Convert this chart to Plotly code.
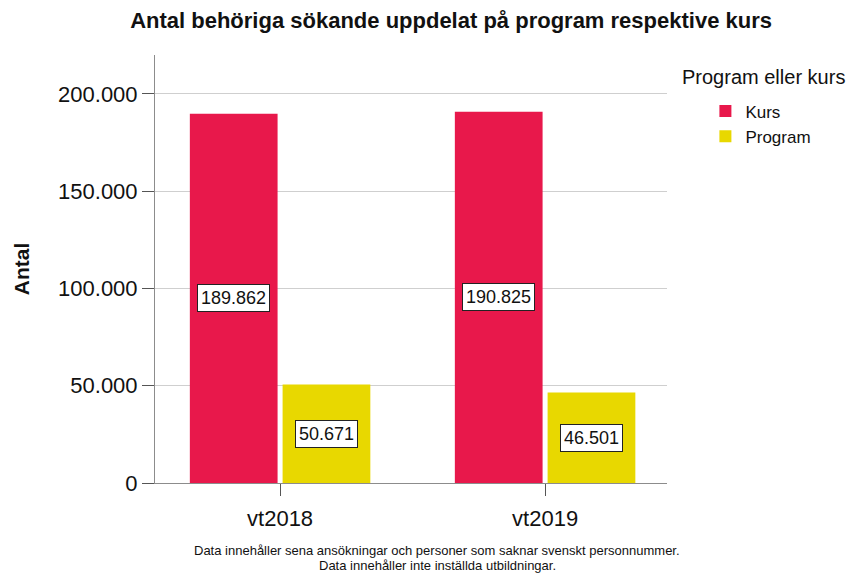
import plotly.graph_objects as go

categories = ["vt2018", "vt2019"]
series_names = ["Kurs", "Program"]
kurs_values = [189862, 190825]
program_values = [50671, 46501]
y_tickvals = [0, 50000, 100000, 150000, 200000]
colors = {"Kurs": "#E8184B", "Program": "#E8D800"}

FONT = "Liberation Sans, Arial, sans-serif"

def fmt(v):
    return f"{v:,}".replace(",", ".")

fig = go.Figure()
series = {"Kurs": kurs_values, "Program": program_values}
for name in series_names:
    fig.add_trace(go.Bar(
        x=categories, y=series[name], name=name,
        marker=dict(color=colors[name], line=dict(width=0)),
        hoverinfo="skip",
    ))

# data labels in boxes at the middle of each bar
bargap = 0.3
n = len(series_names)
slot = (1 - bargap) / n
for si, name in enumerate(series_names):
    offset = -((1 - bargap) / 2) + slot * (si + 0.5)
    for ci, v in enumerate(series[name]):
        fig.add_annotation(
            x=ci + offset, y=v / 2, xref="x", yref="y",
            text=fmt(v), showarrow=False,
            font=dict(family=FONT, size=18, color="#111"),
            bgcolor="white", bordercolor="#222", borderwidth=1, borderpad=3,
        )

# legend title as text
fig.add_annotation(
    x=1.025, y=0.949, xref="paper", yref="paper", xanchor="left", yanchor="middle",
    text="Program eller kurs", showarrow=False,
    font=dict(family=FONT, size=20, color="#111"),
)

# footnote
fig.add_annotation(
    x=0.551, y=0, xref="paper", yref="paper", yshift=-67, yanchor="middle",
    text="Data innehåller sena ansökningar och personer som saknar svenskt personnummer.",
    showarrow=False, font=dict(family=FONT, size=13, color="#111"),
)
fig.add_annotation(
    x=0.551, y=0, xref="paper", yref="paper", yshift=-82, yanchor="middle",
    text="Data innehåller inte inställda utbildningar.",
    showarrow=False, font=dict(family=FONT, size=13, color="#111"),
)

fig.update_layout(
    width=857, height=565,
    margin=dict(l=147, r=198, t=47, b=90, autoexpand=False),
    paper_bgcolor="white", plot_bgcolor="white",
    separators=",.",
    barmode="group", bargap=bargap, bargroupgap=0.054,
    title=dict(
        text="<b>Antal behöriga sökande uppdelat på program respektive kurs</b>",
        x=0.517, xanchor="center", y=0.979, yanchor="middle",
        font=dict(family=FONT, size=22, color="#111"),
    ),
    font=dict(family=FONT, color="#111"),
    legend=dict(
        x=1.075, xanchor="left", y=0.91, yanchor="top",
        font=dict(family=FONT, size=17, color="#111"),
        bgcolor="rgba(0,0,0,0)", itemwidth=30, tracegroupgap=0,
        itemclick=False,
    ),
    xaxis=dict(
        type="category", range=[-0.472, 1.46],
        showline=True, linecolor="#8c8c8c", linewidth=1,
        ticks="outside", ticklen=12, tickcolor="#555", tickwidth=1,
        tickfont=dict(family=FONT, size=22, color="#111"),
        ticklabelstandoff=4,
        showgrid=False, zeroline=False,
    ),
    yaxis=dict(
        range=[0, 220000],
        tickvals=y_tickvals, tickformat=",d",
        showline=True, linecolor="#8c8c8c", linewidth=1,
        ticks="outside", ticklen=12, tickcolor="#555", tickwidth=1,
        tickfont=dict(family=FONT, size=22, color="#111"),
        showgrid=True, gridcolor="#cfcfcf", gridwidth=1,
        zeroline=False,
        title=dict(text="<b>Antal</b>", font=dict(family=FONT, size=21, color="#111"), standoff=22),
    ),
)

fig.write_html("out.html")
